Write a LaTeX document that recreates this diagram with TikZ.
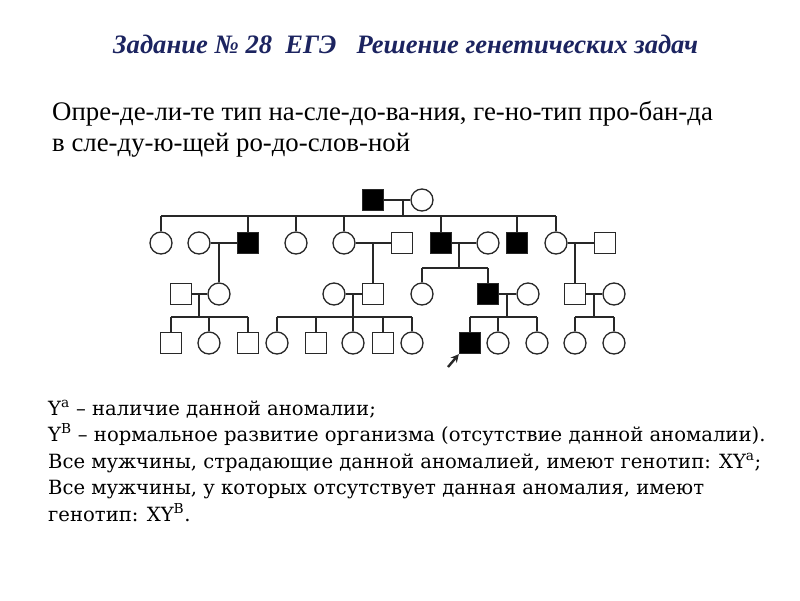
\documentclass[tikz,border=0pt]{standalone}
\usepackage{fontspec}
\setmainfont{Liberation Serif}
\newfontfamily\notefont{DejaVu Serif}
\usetikzlibrary{arrows.meta}
\definecolor{navy}{RGB}{28,36,96}
\definecolor{pedline}{RGB}{40,40,40}

\begin{document}
\begin{tikzpicture}[x=1pt, y=-1pt,
				male/.style={rectangle, draw=pedline, fill=white, line width=1.3pt,
					minimum size=21pt, inner sep=0pt},
				female/.style={circle, draw=pedline, fill=white, line width=1.3pt,
					minimum size=22pt, inner sep=0pt},
				affected/.style={fill=black},
				link/.style={draw=pedline, line width=1.3pt},
				probarrow/.style={-{Stealth[length=8pt, width=8pt]}, line width=2.4pt, color=pedline},
				headline/.style={font=\fontsize{26.6}{30}\selectfont\bfseries\itshape, text=navy,
					anchor=base west, inner sep=0pt},
				task/.style={font=\fontsize{26.8}{30}\selectfont, anchor=base west, inner sep=0pt},
				note/.style={font=\notefont\fontsize{19.6}{23}\selectfont, anchor=base west, inner sep=0pt}
				]
				\useasboundingbox[fill=white] (0,0) rectangle (800,600);

				\node[headline] (title) at (113,53) {Задание № 28~~ЕГЭ~~~Решение генетических задач};
				\node[task] (task1) at (52,120) {Опре-де-ли-те тип на-сле-до-ва-ния, ге-но-тип про-бан-да};
				\node[task] (task2) at (52,151) {в сле-ду-ю-щей ро-до-слов-ной};

				\node[male, affected] (i1) at (373,200) {};
				\node[female] (i2) at (422,200) {};

				\node[female] (ii1) at (161,243) {};
				\node[female] (ii2) at (199,243) {};
				\node[male, affected] (ii3) at (248,243) {};
				\node[female] (ii4) at (296,243) {};
				\node[female] (ii5) at (344,243) {};
				\node[male] (ii6) at (402,243) {};
				\node[male, affected] (ii7) at (441,243) {};
				\node[female] (ii8) at (488,243) {};
				\node[male, affected] (ii9) at (517,243) {};
				\node[female] (ii10) at (556,243) {};
				\node[male] (ii11) at (605,243) {};

				\node[male] (iii1) at (181,294) {};
				\node[female] (iii2) at (219,294) {};
				\node[female] (iii3) at (334,294) {};
				\node[male] (iii4) at (373,294) {};
				\node[female] (iii5) at (422,294) {};
				\node[male, affected] (iii6) at (488,294) {};
				\node[female] (iii7) at (528,294) {};
				\node[male] (iii8) at (575,294) {};
				\node[female] (iii9) at (614,294) {};

				\node[male] (iv1) at (171,343) {};
				\node[female] (iv2) at (209,343) {};
				\node[male] (iv3) at (248,343) {};
				\node[female] (iv4) at (277,343) {};
				\node[male] (iv5) at (316,343) {};
				\node[female] (iv6) at (353,343) {};
				\node[male] (iv7) at (383,343) {};
				\node[female] (iv8) at (412,343) {};
				\node[male, affected] (iv9) at (470,343) {};
				\node[female] (iv10) at (498,343) {};
				\node[female] (iv11) at (537,343) {};
				\node[female] (iv12) at (575,343) {};
				\node[female] (iv13) at (614,343) {};

				\coordinate (s1) at (403,216);
				\coordinate (s2) at (459,268);
				\coordinate (s3a) at (199,317);
				\coordinate (s3b) at (353,317);
				\coordinate (s3c) at (507,317);
				\coordinate (s3d) at (594,317);
				\coordinate (pa) at (448,367);

				\draw[link] (i1) -- (i2);
				\draw[link] (s1) -- (s1 |- i1);
				\draw[link] (ii1.north |- s1) -- (ii10.north |- s1);
				\draw[link] (ii1.north) -- (ii1.north |- s1);
				\draw[link] (ii3.north) -- (ii3.north |- s1);
				\draw[link] (ii4.north) -- (ii4.north |- s1);
				\draw[link] (ii5.north) -- (ii5.north |- s1);
				\draw[link] (ii7.north) -- (ii7.north |- s1);
				\draw[link] (ii9.north) -- (ii9.north |- s1);
				\draw[link] (ii10.north) -- (ii10.north |- s1);

				\draw[link] (ii2) -- (ii3);
				\draw[link] (ii5) -- (ii6);
				\draw[link] (ii7) -- (ii8);
				\draw[link] (ii10) -- (ii11);
				\draw[link] (iii2.north) -- (iii2.north |- ii2);
				\draw[link] (iii4.north) -- (iii4.north |- ii5);
				\draw[link] (iii8.north) -- (iii8.north |- ii10);
				\draw[link] (s2) -- (s2 |- ii7);
				\draw[link] (iii5.north |- s2) -- (iii6.north |- s2);
				\draw[link] (iii5.north) -- (iii5.north |- s2);
				\draw[link] (iii6.north) -- (iii6.north |- s2);

				\draw[link] (iii1) -- (iii2);
				\draw[link] (iii3) -- (iii4);
				\draw[link] (iii6) -- (iii7);
				\draw[link] (iii8) -- (iii9);
				\draw[link] (s3a) -- (s3a |- iii1);
				\draw[link] (s3b) -- (s3b |- iii3);
				\draw[link] (s3c) -- (s3c |- iii6);
				\draw[link] (s3d) -- (s3d |- iii8);

				\draw[link] (iv1.north |- s3a) -- (iv3.north |- s3a);
				\draw[link] (iv1.north) -- (iv1.north |- s3a);
				\draw[link] (iv2.north) -- (iv2.north |- s3a);
				\draw[link] (iv3.north) -- (iv3.north |- s3a);
				\draw[link] (iv4.north |- s3b) -- (iv8.north |- s3b);
				\draw[link] (iv4.north) -- (iv4.north |- s3b);
				\draw[link] (iv5.north) -- (iv5.north |- s3b);
				\draw[link] (iv6.north) -- (iv6.north |- s3b);
				\draw[link] (iv7.north) -- (iv7.north |- s3b);
				\draw[link] (iv8.north) -- (iv8.north |- s3b);
				\draw[link] (iv9.north |- s3c) -- (iv11.north |- s3c);
				\draw[link] (iv9.north) -- (iv9.north |- s3c);
				\draw[link] (iv10.north) -- (iv10.north |- s3c);
				\draw[link] (iv11.north) -- (iv11.north |- s3c);
				\draw[link] (iv12.north |- s3d) -- (iv13.north |- s3d);
				\draw[link] (iv12.north) -- (iv12.north |- s3d);
				\draw[link] (iv13.north) -- (iv13.north |- s3d);

				\draw[probarrow] (pa) -- (iv9.south west);

				\node[note] (note1) at (48,415) {Y\textsuperscript{a} – наличие данной аномалии;};
				\node[note] (note2) at (48,441.5) {Y\textsuperscript{B} – нормальное развитие организма (отсутствие данной аномалии).};
				\node[note] (note3) at (48,468) {Все мужчины, страдающие данной аномалией, имеют генотип: XY\textsuperscript{a};};
				\node[note] (note4) at (48,494.5) {Все мужчины, у которых отсутствует данная аномалия, имеют};
				\node[note] (note5) at (48,521) {генотип: XY\textsuperscript{B}.};
			\end{tikzpicture}
\end{document}
